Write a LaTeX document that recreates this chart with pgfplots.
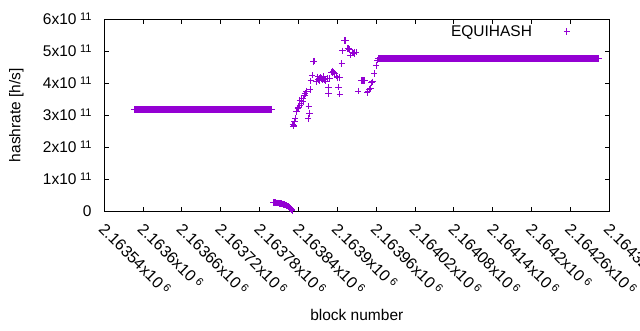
\documentclass[border=0pt]{standalone}
\usepackage{fontspec}
\setmainfont{Liberation Sans}
\usepackage{pgfplots}
\pgfplotsset{compat=1.18}
\definecolor{gpviolet}{HTML}{9400D3}
\newcommand{\sci}[2]{#1x10\kern3.5pt\raisebox{4pt}[0pt][0pt]{\fontsize{11}{11}\selectfont #2}}
\begin{document}
\begin{tikzpicture}
\begin{axis}[
 at={(104.3pt,119pt)}, anchor=south west,
 scale only axis, width=505pt, height=191.7pt,
 xmin=0, xmax=780, ymin=0, ymax=6,
 xtick={0,60,120,180,240,300,360,420,480,540,600,660,720,780},
 xticklabels={\sci{2.16354}{6},\sci{2.1636}{6},\sci{2.16366}{6},\sci{2.16372}{6},\sci{2.16378}{6},\sci{2.16384}{6},\sci{2.1639}{6},\sci{2.16396}{6},\sci{2.16402}{6},\sci{2.16408}{6},\sci{2.16414}{6},\sci{2.1642}{6},\sci{2.16426}{6},\sci{2.16432}{6}},
 ytick={0,1,2,3,4,5,6},
 yticklabels={0,\sci{1}{11},\sci{2}{11},\sci{3}{11},\sci{4}{11},\sci{5}{11},\sci{6}{11}},
 tick label style={font=\fontsize{15.5}{18}\selectfont},
 label style={font=\fontsize{15.5}{18}\selectfont},
 xticklabel style={xshift=1.5pt, yshift=-11pt, rotate=-45, anchor=north west, inner sep=0pt, font=\fontsize{16}{18}\selectfont},
 yticklabel style={anchor=east, inner sep=0pt, xshift=-12.6pt},
 tick style={black, line width=1pt},
 major tick length=4.5pt,
 tick align=inside,
 xtick pos=both, ytick pos=both,
 axis line style={line width=1pt},
 xlabel={block number},
 ylabel={hashrate [h/s]},
 xlabel style={at={(axis description cs:0.5,-0.5425)}, anchor=center},
 ylabel style={at={(axis description cs:-0.1743,0.5)}, anchor=center},
 legend style={draw=none, fill=none, at={(axis description cs:0.9261,0.937)}, anchor=east, inner sep=0pt, outer sep=0pt, nodes={inner sep=0pt}, font=\fontsize{15.5}{18}\selectfont},
 legend cell align=right,
 legend plot pos=right,
 legend image code/.code={\path[draw=none,fill=none] (0pt,-3pt) (40pt,3pt); \draw[#1] plot coordinates {(35pt,0pt)};},
]
\addplot[only marks, mark=+, mark size=3.2pt, color=gpviolet, mark options={line width=1pt}] coordinates {
(46,3.18)(47,3.18)(48,3.18)(49,3.18)(50,3.18)(51,3.18)(52,3.18)(53,3.18)(54,3.18)(55,3.18)
(56,3.18)(57,3.18)(58,3.18)(59,3.18)(60,3.18)(61,3.18)(62,3.18)(63,3.18)(64,3.18)(65,3.18)
(66,3.18)(67,3.18)(68,3.18)(69,3.18)(70,3.18)(71,3.18)(72,3.18)(73,3.18)(74,3.18)(75,3.18)
(76,3.18)(77,3.18)(78,3.18)(79,3.18)(80,3.18)(81,3.18)(82,3.18)(83,3.18)(84,3.18)(85,3.18)
(86,3.18)(87,3.18)(88,3.18)(89,3.18)(90,3.18)(91,3.18)(92,3.18)(93,3.18)(94,3.18)(95,3.18)
(96,3.18)(97,3.18)(98,3.18)(99,3.18)(100,3.18)(101,3.18)(102,3.18)(103,3.18)(104,3.18)(105,3.18)
(106,3.18)(107,3.18)(108,3.18)(109,3.18)(110,3.18)(111,3.18)(112,3.18)(113,3.18)(114,3.18)(115,3.18)
(116,3.18)(117,3.18)(118,3.18)(119,3.18)(120,3.18)(121,3.18)(122,3.18)(123,3.18)(124,3.18)(125,3.18)
(126,3.18)(127,3.18)(128,3.18)(129,3.18)(130,3.18)(131,3.18)(132,3.18)(133,3.18)(134,3.18)(135,3.18)
(136,3.18)(137,3.18)(138,3.18)(139,3.18)(140,3.18)(141,3.18)(142,3.18)(143,3.18)(144,3.18)(145,3.18)
(146,3.18)(147,3.18)(148,3.18)(149,3.18)(150,3.18)(151,3.18)(152,3.18)(153,3.18)(154,3.18)(155,3.18)
(156,3.18)(157,3.18)(158,3.18)(159,3.18)(160,3.18)(161,3.18)(162,3.18)(163,3.18)(164,3.18)(165,3.18)
(166,3.18)(167,3.18)(168,3.18)(169,3.18)(170,3.18)(171,3.18)(172,3.18)(173,3.18)(174,3.18)(175,3.18)
(176,3.18)(177,3.18)(178,3.18)(179,3.18)(180,3.18)(181,3.18)(182,3.18)(183,3.18)(184,3.18)(185,3.18)
(186,3.18)(187,3.18)(188,3.18)(189,3.18)(190,3.18)(191,3.18)(192,3.18)(193,3.18)(194,3.18)(195,3.18)
(196,3.18)(197,3.18)(198,3.18)(199,3.18)(200,3.18)(201,3.18)(202,3.18)(203,3.18)(204,3.18)(205,3.18)
(206,3.18)(207,3.18)(208,3.18)(209,3.18)(210,3.18)(211,3.18)(212,3.18)(213,3.18)(214,3.18)(215,3.18)
(216,3.18)(217,3.18)(218,3.18)(219,3.18)(220,3.18)(221,3.18)(222,3.18)(223,3.18)(224,3.18)(225,3.18)
(226,3.18)(227,3.18)(228,3.18)(229,3.18)(230,3.18)(231,3.18)(232,3.18)(233,3.18)(234,3.18)(235,3.18)
(236,3.18)(237,3.18)(238,3.18)(239,3.18)(240,3.18)(241,3.18)(242,3.18)(243,3.18)(244,3.18)(245,3.18)
(246,3.18)(247,3.18)(248,3.18)(249,3.18)(250,3.18)(251,3.18)(252,3.18)(253,3.18)(254,3.18)(255,3.18)
(256,3.18)(257,3.18)(258,3.18)(259,3.18)
(261,0.27)(262,0.265)(263,0.26)(264,0.26)(265,0.255)(266,0.255)(267,0.25)(268,0.25)(269,0.245)(270,0.24)
(271,0.24)(272,0.235)(273,0.23)(274,0.225)(275,0.22)(276,0.215)(277,0.205)(278,0.2)(279,0.19)(280,0.18)
(281,0.17)(282,0.16)(283,0.15)(284,0.14)(285,0.13)(286,0.11)(287,0.09)(288,0.07)(289,0.05)(290,0.02)
(291,2.72)(292,2.66)(293,2.69)(294,2.79)(295,2.90)(297,3.10)(299,3.21)(300,3.24)(302,3.31)(302,3.47)
(304,3.37)(305,3.52)(307,3.42)(307,3.52)(309,3.62)(310,3.68)(312,3.73)(313,3.75)(315,2.90)(316,3.28)
(317,3.05)(318,3.80)(319,4.07)(321,4.25)(323,4.68)(324,4.69)(328,4.04)(330,4.20)(331,4.12)(332,4.15)
(333,4.09)(334,4.18)(336,4.15)(337,4.10)(338,4.17)(339,4.22)(340,4.12)(342,4.06)(344,4.15)(346,3.88)
(346,3.68)(348,4.15)(351,4.35)(352,4.32)(353,4.38)(354,4.35)(356,4.30)(359,4.22)(360,4.17)(362,3.88)
(364,3.66)(364,4.18)(367,4.62)(368,5.01)(371,5.34)(372,5.34)(373,5.33)(376,5.08)(377,5.09)(378,5.05)
(380,4.88)(383,4.95)(384,4.96)(385,4.94)(386,4.93)(387,4.96)(389,4.97)(392,3.75)(397,4.09)(398,4.09)
(399,4.09)(400,4.09)(401,4.09)(402,4.09)(406,3.70)(407,3.73)(409,3.81)(411,3.83)(413,4.01)(414,4.04)
(417,4.30)(420,4.56)(422,4.72)
(423,4.77)(424,4.77)(425,4.77)(426,4.77)(427,4.77)(428,4.77)(429,4.77)(430,4.77)(431,4.77)(432,4.77)
(433,4.77)(434,4.77)(435,4.77)(436,4.77)(437,4.77)(438,4.77)(439,4.77)(440,4.77)(441,4.77)(442,4.77)
(443,4.77)(444,4.77)(445,4.77)(446,4.77)(447,4.77)(448,4.77)(449,4.77)(450,4.77)(451,4.77)(452,4.77)
(453,4.77)(454,4.77)(455,4.77)(456,4.77)(457,4.77)(458,4.77)(459,4.77)(460,4.77)(461,4.77)(462,4.77)
(463,4.77)(464,4.77)(465,4.77)(466,4.77)(467,4.77)(468,4.77)(469,4.77)(470,4.77)(471,4.77)(472,4.77)
(473,4.77)(474,4.77)(475,4.77)(476,4.77)(477,4.77)(478,4.77)(479,4.77)(480,4.77)(481,4.77)(482,4.77)
(483,4.77)(484,4.77)(485,4.77)(486,4.77)(487,4.77)(488,4.77)(489,4.77)(490,4.77)(491,4.77)(492,4.77)
(493,4.77)(494,4.77)(495,4.77)(496,4.77)(497,4.77)(498,4.77)(499,4.77)(500,4.77)(501,4.77)(502,4.77)
(503,4.77)(504,4.77)(505,4.77)(506,4.77)(507,4.77)(508,4.77)(509,4.77)(510,4.77)(511,4.77)(512,4.77)
(513,4.77)(514,4.77)(515,4.77)(516,4.77)(517,4.77)(518,4.77)(519,4.77)(520,4.77)(521,4.77)(522,4.77)
(523,4.77)(524,4.77)(525,4.77)(526,4.77)(527,4.77)(528,4.77)(529,4.77)(530,4.77)(531,4.77)(532,4.77)
(533,4.77)(534,4.77)(535,4.77)(536,4.77)(537,4.77)(538,4.77)(539,4.77)(540,4.77)(541,4.77)(542,4.77)
(543,4.77)(544,4.77)(545,4.77)(546,4.77)(547,4.77)(548,4.77)(549,4.77)(550,4.77)(551,4.77)(552,4.77)
(553,4.77)(554,4.77)(555,4.77)(556,4.77)(557,4.77)(558,4.77)(559,4.77)(560,4.77)(561,4.77)(562,4.77)
(563,4.77)(564,4.77)(565,4.77)(566,4.77)(567,4.77)(568,4.77)(569,4.77)(570,4.77)(571,4.77)(572,4.77)
(573,4.77)(574,4.77)(575,4.77)(576,4.77)(577,4.77)(578,4.77)(579,4.77)(580,4.77)(581,4.77)(582,4.77)
(583,4.77)(584,4.77)(585,4.77)(586,4.77)(587,4.77)(588,4.77)(589,4.77)(590,4.77)(591,4.77)(592,4.77)
(593,4.77)(594,4.77)(595,4.77)(596,4.77)(597,4.77)(598,4.77)(599,4.77)(600,4.77)(601,4.77)(602,4.77)
(603,4.77)(604,4.77)(605,4.77)(606,4.77)(607,4.77)(608,4.77)(609,4.77)(610,4.77)(611,4.77)(612,4.77)
(613,4.77)(614,4.77)(615,4.77)(616,4.77)(617,4.77)(618,4.77)(619,4.77)(620,4.77)(621,4.77)(622,4.77)
(623,4.77)(624,4.77)(625,4.77)(626,4.77)(627,4.77)(628,4.77)(629,4.77)(630,4.77)(631,4.77)(632,4.77)
(633,4.77)(634,4.77)(635,4.77)(636,4.77)(637,4.77)(638,4.77)(639,4.77)(640,4.77)(641,4.77)(642,4.77)
(643,4.77)(644,4.77)(645,4.77)(646,4.77)(647,4.77)(648,4.77)(649,4.77)(650,4.77)(651,4.77)(652,4.77)
(653,4.77)(654,4.77)(655,4.77)(656,4.77)(657,4.77)(658,4.77)(659,4.77)(660,4.77)(661,4.77)(662,4.77)
(663,4.77)(664,4.77)(665,4.77)(666,4.77)(667,4.77)(668,4.77)(669,4.77)(670,4.77)(671,4.77)(672,4.77)
(673,4.77)(674,4.77)(675,4.77)(676,4.77)(677,4.77)(678,4.77)(679,4.77)(680,4.77)(681,4.77)(682,4.77)
(683,4.77)(684,4.77)(685,4.77)(686,4.77)(687,4.77)(688,4.77)(689,4.77)(690,4.77)(691,4.77)(692,4.77)
(693,4.77)(694,4.77)(695,4.77)(696,4.77)(697,4.77)(698,4.77)(699,4.77)(700,4.77)(701,4.77)(702,4.77)
(703,4.77)(704,4.77)(705,4.77)(706,4.77)(707,4.77)(708,4.77)(709,4.77)(710,4.77)(711,4.77)(712,4.77)
(713,4.77)(714,4.77)(715,4.77)(716,4.77)(717,4.77)(718,4.77)(719,4.77)(720,4.77)(721,4.77)(722,4.77)
(723,4.77)(724,4.77)(725,4.77)(726,4.77)(727,4.77)(728,4.77)(729,4.77)(730,4.77)(731,4.77)(732,4.77)
(733,4.77)(734,4.77)(735,4.77)(736,4.77)(737,4.77)(738,4.77)(739,4.77)(740,4.77)(741,4.77)(742,4.77)
(743,4.77)(744,4.77)(745,4.77)(746,4.77)(747,4.77)(748,4.77)(749,4.77)(750,4.77)(751,4.77)(752,4.77)
(753,4.77)(754,4.77)(755,4.77)(756,4.77)(757,4.77)(758,4.77)(759,4.77)(760,4.77)(761,4.77)(762,4.77)
(763,4.77)(764,4.77)
};
\addlegendentry{EQUIHASH}
\end{axis}
\pgfresetboundingbox
\path[use as bounding box] (0,0) rectangle (640pt,330pt);
\end{tikzpicture}
\end{document}
